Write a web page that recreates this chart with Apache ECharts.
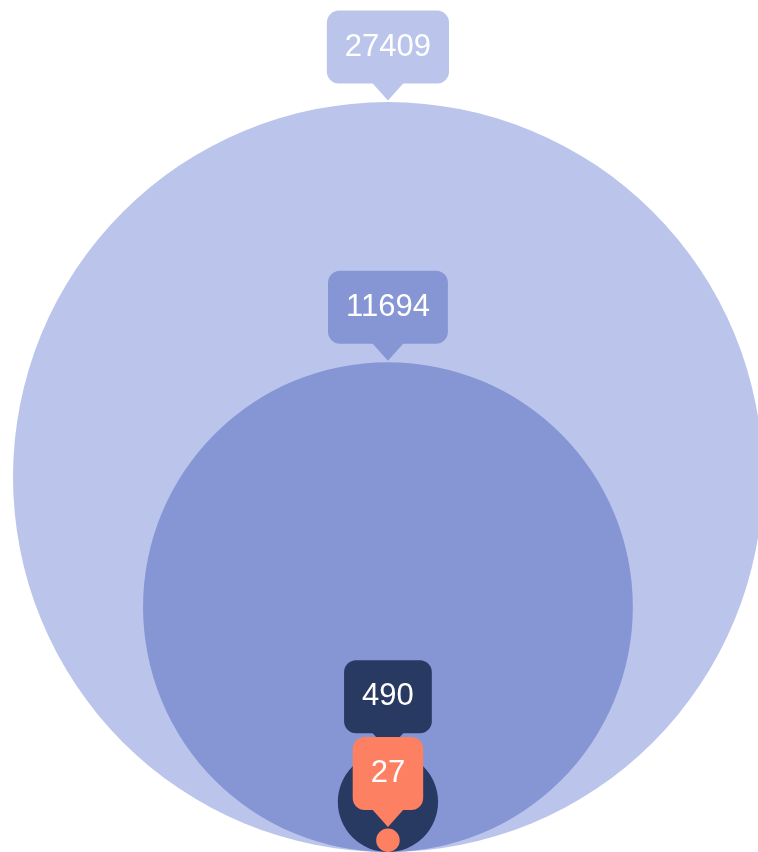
<!DOCTYPE html>
<html>
<head>
<meta charset="utf-8">
<script src="https://cdn.jsdelivr.net/npm/echarts@6/dist/echarts.min.js"></script>
<style>
html,body{margin:0;padding:0;background:#fff;}
#chart{width:758px;height:852px;}
</style>
</head>
<body>
<div id="chart"></div>
<script>
// Data
const values = [27409, 11694, 490, 27];
const colors = ['#BBC5EC', '#8696D4', '#283962', '#FD8062'];

const chart = echarts.init(document.getElementById('chart'));

function circleGeom(api) {
  const v = api.value(0);
  const r = Math.sqrt(v);
  const c = api.coord([0, r]);
  const rp = api.size([r, r])[0];
  return { v: v, cx: c[0], cy: c[1], r: rp };
}

const option = {
  animation: false,
  grid: { left: 0, right: 0, top: 0, bottom: 0 },
  xAxis: { type: 'value', min: -171.3, max: 163.4, show: false },
  yAxis: { type: 'value', min: 0, max: 376.2, show: false },
  series: [
    {
      type: 'custom',
      coordinateSystem: 'cartesian2d',
      data: values.map(v => [v]),
      encode: { x: -1, y: -1 },
      renderItem: function (params, api) {
        const g = circleGeom(api);
        return {
          type: 'circle',
          shape: { cx: g.cx, cy: g.cy, r: g.r },
          style: { fill: colors[params.dataIndex] }
        };
      }
    },
    {
      type: 'custom',
      coordinateSystem: 'cartesian2d',
      data: values.map(v => [v]),
      encode: { x: -1, y: -1 },
      renderItem: function (params, api) {
        const g = circleGeom(api);
        const col = colors[params.dataIndex];
        const top = g.cy - g.r;
        const tipY = top - 1.5;
        const boxBottom = tipY - 17;
        return {
          type: 'group',
          children: [
            {
              type: 'polygon',
              shape: { points: [[g.cx - 17, boxBottom - 2], [g.cx + 17, boxBottom - 2], [g.cx, tipY]] },
              style: { fill: col }
            },
            {
              type: 'text',
              x: g.cx,
              y: boxBottom,
              style: {
                text: String(g.v),
                fill: '#ffffff',
                font: '31px "Liberation Sans", Arial, sans-serif',
                align: 'center',
                verticalAlign: 'bottom',
                lineHeight: 37,
                backgroundColor: col,
                padding: [18, 18, 18, 18],
                borderRadius: 12
              }
            }
          ]
        };
      }
    }
  ]
};
chart.setOption(option);
</script>
</body>
</html>
